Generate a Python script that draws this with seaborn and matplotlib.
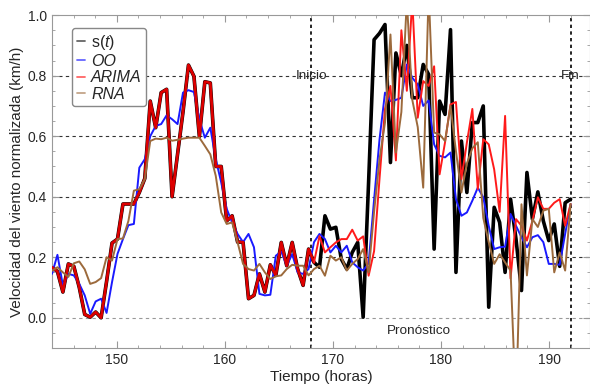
import numpy as np
import pandas as pd
import matplotlib
matplotlib.use("Agg")
import matplotlib.pyplot as plt
from matplotlib.lines import Line2D
from matplotlib.ticker import MultipleLocator
import seaborn as sns

# Serie observada s(t) y pronosticos (OO, ARIMA, RNA), muestreo ~ cada media hora
s_t = [0.167, 0.153, 0.085, 0.178, 0.170, 0.10, 0.011, 0.002, 0.019, 0.0,
       0.12, 0.247, 0.26, 0.376, 0.376, 0.376, 0.414, 0.46, 0.716, 0.628,
       0.744, 0.755, 0.40, 0.54, 0.68, 0.835, 0.798, 0.599, 0.78, 0.776,
       0.50, 0.50, 0.32, 0.337, 0.25, 0.25, 0.063, 0.074, 0.145, 0.085,
       0.175, 0.14, 0.249, 0.172, 0.249, 0.161, 0.107, 0.227, 0.183,
       0.167, 0.337, 0.293, 0.299, 0.194, 0.161, 0.216, 0.249, 0.002, 0.45,
       0.919, 0.94, 0.969, 0.513, 0.875, 0.80, 0.90, 0.727, 0.727, 0.837,
       0.804, 0.227, 0.716, 0.672, 0.952, 0.15, 0.584, 0.414, 0.645, 0.645,
       0.70, 0.035, 0.365, 0.315, 0.15, 0.392, 0.26, 0.09, 0.48, 0.326,
       0.416, 0.32, 0.255, 0.31, 0.17, 0.38, 0.392]

oo = [0.145, 0.208, 0.107, 0.145, 0.14, 0.112, 0.074, 0.013, 0.054, 0.063,
      0.016, 0.118, 0.211, 0.26, 0.306, 0.31, 0.496, 0.524, 0.6, 0.634,
      0.64, 0.669, 0.656, 0.64, 0.744, 0.752, 0.746, 0.656, 0.595, 0.628,
      0.524, 0.447, 0.36, 0.315, 0.277, 0.25, 0.277, 0.233, 0.079, 0.074,
      0.076, 0.205, 0.219, 0.172, 0.21, 0.15, 0.145, 0.161, 0.25,
      0.277, 0.26, 0.216, 0.238, 0.216, 0.238, 0.183, 0.167, 0.156, 0.18,
      0.39, 0.59, 0.744, 0.716, 0.72, 0.727, 0.837, 0.793, 0.771, 0.70,
      0.718, 0.573, 0.535, 0.53, 0.546, 0.392, 0.337, 0.348, 0.387, 0.43,
      0.398, 0.304, 0.227, 0.233, 0.235, 0.343, 0.304, 0.266, 0.233, 0.266,
      0.273, 0.25, 0.178, 0.178, 0.175, 0.277, 0.376]

arima = s_t[:49] + [
    0.27, 0.216, 0.233, 0.249, 0.26, 0.26, 0.291, 0.255, 0.269, 0.139,
    0.22, 0.46, 0.69, 0.766, 0.52, 0.95, 0.75, 1.05, 0.661, 0.782,
    0.766, 0.831, 0.474, 0.58, 0.705, 0.713, 0.458, 0.579, 0.69, 0.425,
    0.59, 0.573, 0.49, 0.35, 0.667, 0.13, 0.326, 0.304, 0.255, 0.32,
    0.398, 0.36, 0.36, 0.38, 0.392, 0.304, 0.376]

rna = [0.155, 0.167, 0.150, 0.135, 0.18, 0.186, 0.16, 0.112, 0.118, 0.131,
       0.2, 0.189, 0.26, 0.262, 0.32, 0.42, 0.425, 0.458, 0.584, 0.592,
       0.59, 0.595, 0.585, 0.588, 0.592, 0.595, 0.595, 0.595, 0.568, 0.54,
       0.469, 0.348, 0.31, 0.315, 0.249, 0.178, 0.161, 0.156, 0.178, 0.15,
       0.128, 0.137, 0.14, 0.161, 0.175, 0.172, 0.172, 0.14, 0.161,
       0.172, 0.139, 0.205, 0.189, 0.2, 0.156, 0.178, 0.194, 0.227, 0.15,
       0.35, 0.524, 0.645, 0.936, 0.546, 0.68, 1.05, 0.72, 0.63, 0.43,
       1.08, 0.612, 0.606, 0.584, 0.70, 0.55, 0.414, 0.51, 0.56, 0.58,
       0.33, 0.25, 0.178, 0.21, 0.183, 0.156, -0.30, 0.375, 0.14, 0.326,
       0.30, 0.354, 0.36, 0.15, 0.216, 0.156, 0.376]

horas = np.linspace(144, 192, len(s_t))
n_ajuste = 49  # puntos hasta el inicio del pronostico (t = 168)

df = pd.DataFrame({"t": horas, "s": s_t, "OO": oo, "ARIMA": arima, "RNA": rna})

sns.set_style("ticks")
plt.rcParams['font.family'] = ['Liberation Sans', 'DejaVu Sans']
plt.rcParams['mathtext.fontset'] = 'custom'
plt.rcParams['mathtext.rm'] = 'Liberation Sans'
plt.rcParams['mathtext.it'] = 'Liberation Sans:italic'

fig = plt.figure(figsize=(5.9, 3.88), dpi=100)
ax = fig.add_axes([0.0881, 0.103, 0.912, 0.858])

# lineas de referencia
for y in [0.0, 0.2, 0.4, 0.6, 0.8]:
    ax.axhline(y, color="#999999" if y == 0 else "#333333", ls=(0, (3, 3)), lw=0.8, zorder=0)
for x in [168, 192]:
    ax.axvline(x, color="black", ls=(0, (2, 2)), lw=1.2, zorder=0)

sns.lineplot(data=df, x="t", y="s", color="black", lw=2.6, ax=ax, zorder=2)
sns.lineplot(data=df, x="t", y="OO", color="#1a1aff", lw=1.4, ax=ax, zorder=3)
sns.lineplot(data=df.iloc[:n_ajuste], x="t", y="ARIMA", color="#dd0000", lw=2.0, ax=ax, zorder=4)
sns.lineplot(data=df.iloc[n_ajuste - 1:], x="t", y="ARIMA", color="#ff1a1a", lw=1.4, ax=ax, zorder=4)
sns.lineplot(data=df, x="t", y="RNA", color="#9c6a3c", lw=1.4, ax=ax, zorder=5)

ax.set_xlim(144, 193.8)
ax.set_ylim(-0.1, 1.0)
ax.xaxis.set_major_locator(MultipleLocator(10))
ax.xaxis.set_minor_locator(MultipleLocator(2))
ax.yaxis.set_major_locator(MultipleLocator(0.2))
ax.yaxis.set_minor_locator(MultipleLocator(0.05))
ax.yaxis.set_major_formatter(matplotlib.ticker.FormatStrFormatter("%.1f"))
ax.tick_params(which="both", direction="in", top=True, right=True, color="#999999", labelsize=10)
ax.tick_params(which="major", length=5)
ax.tick_params(which="minor", length=2.5)
for sp in ax.spines.values():
    sp.set_color("#999999")

ax.set_xlabel("Tiempo (horas)", fontsize=11, labelpad=2)
ax.set_ylabel("Velocidad del viento normalizada (km/h)", fontsize=11, labelpad=3)

ax.text(168, 0.80, "Inicio", ha="center", va="center", fontsize=9.7)
ax.text(192, 0.80, "Fin", ha="center", va="center", fontsize=9.7)
ax.text(178, -0.045, "Pronóstico", ha="center", va="center", fontsize=9.7)

handles = [Line2D([], [], color=c, lw=1.3, alpha=0.6) for c in ["black", "blue", "red", "#9c6a3c"]]
leg = ax.legend(handles, ["s($t$)", "OO", "ARIMA", "RNA"], loc="upper left",
                bbox_to_anchor=(0.037, 0.961), borderaxespad=0, fontsize=11.5,
                handlelength=0.5, handletextpad=0.4, borderpad=0.3, labelspacing=0.1,
                frameon=True, fancybox=True, edgecolor="#888888", framealpha=1)
for txt, it in zip(leg.get_texts(), [False, True, True, True]):
    if it:
        txt.set_style("italic")

fig.savefig("out.png", dpi=100)
